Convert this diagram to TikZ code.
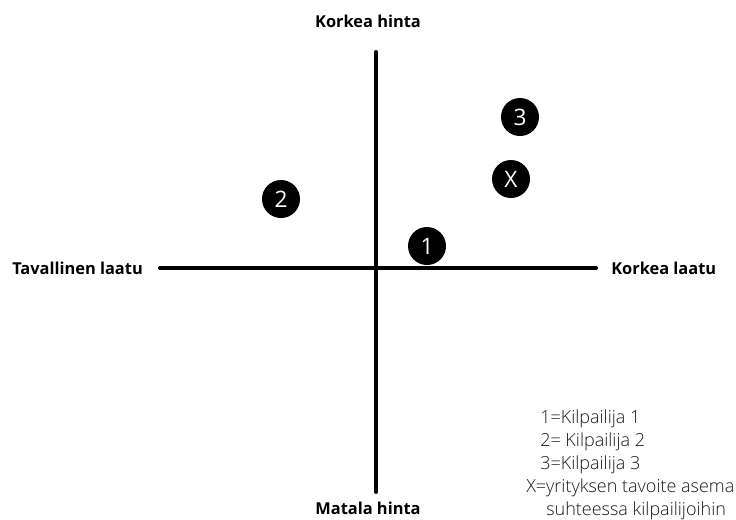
\documentclass[tikz,border=0pt]{standalone}
\usepackage{fontspec}
\setmainfont{Open Sans}
\IfFontExistsTF{Open Sans Light}{\newfontfamily\legfont{Open Sans Light}}{\newfontfamily\legfont{Open Sans}}
\begin{document}
\begin{tikzpicture}[x=0.75pt,y=-0.75pt,
  axis/.style={line width=3pt,line cap=round},
  axlabel/.style={font=\bfseries\fontsize{12.3}{14}\selectfont,inner sep=0pt},
  dot/.style={circle,fill=black,minimum size=28.5pt,inner sep=0pt,text=white,font=\fontsize{17}{20}\selectfont},
  leg/.style={anchor=west,inner sep=0pt,text=black!90,font=\legfont\fontsize{13.5}{16}\selectfont}]
\useasboundingbox (0,0) rectangle (736,519);
\coordinate (top) at (376,52);
\coordinate (bot) at (376,492);
\coordinate (lft) at (160,268);
\coordinate (rgt) at (596,268);
\draw[axis] (top) -- (bot);
\draw[axis] (lft) -- (rgt);
\node[axlabel] (kh) at (368,21) {Korkea hinta};
\node[axlabel] (mh) at (368,508) {Matala hinta};
\node[axlabel,anchor=west] (tl) at (12,268) {Tavallinen laatu};
\node[axlabel,anchor=west] (kl) at (611,268) {Korkea laatu};
\node[dot] (d1) at (427,246) {1};
\node[dot] (d2) at (281,199) {2};
\node[dot] (d3) at (520,117) {3};
\node[dot] (dx) at (511,179) {X};
\node[leg] (l1) at (540,419) {1=Kilpailija 1};
\node[leg] (l2) at (540,442) {2= Kilpailija 2};
\node[leg] (l3) at (540,465) {3=Kilpailija 3};
\node[leg] (l4) at (526,488) {X=yrityksen tavoite asema};
\node[leg] (l5) at (546,511) {suhteessa kilpailijoihin};
\end{tikzpicture}
\end{document}
